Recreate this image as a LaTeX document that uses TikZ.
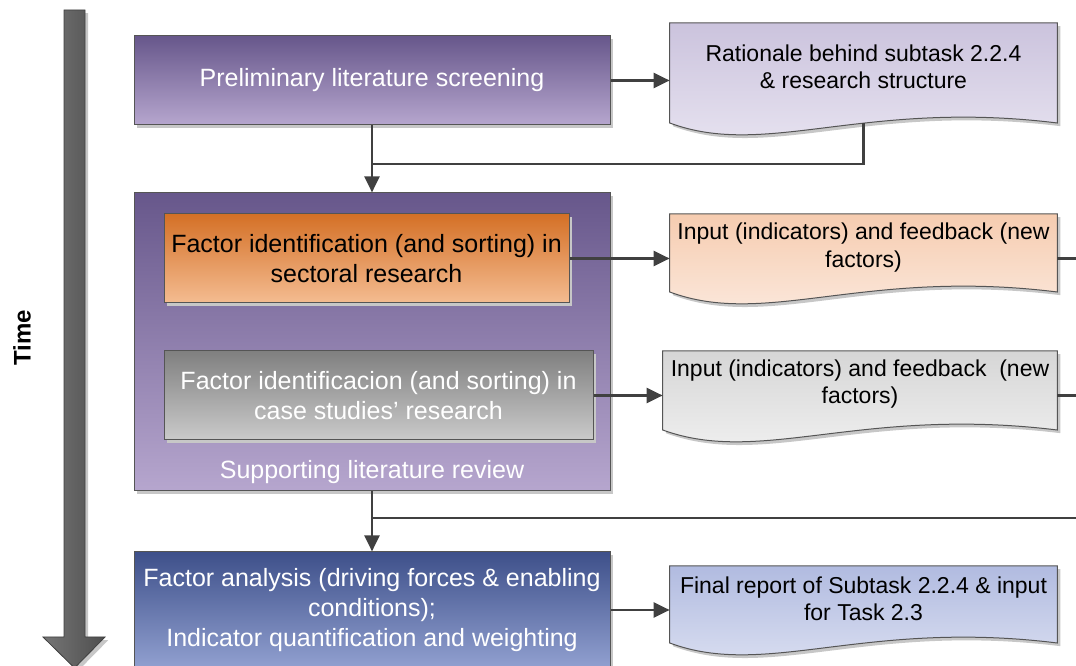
\documentclass[tikz,border=0pt]{standalone}
\usepackage{fontspec}
\setmainfont{Liberation Sans}
\usetikzlibrary{arrows.meta,calc,shadows}
\pgfdeclarelayer{background}
\pgfsetlayers{background,main}

\definecolor{edge}{RGB}{85,85,85}
\definecolor{connc}{RGB}{64,64,64}
\definecolor{purpT}{RGB}{103,87,139}
\definecolor{purpB}{RGB}{182,166,206}
\definecolor{orT}{RGB}{212,112,38}
\definecolor{orB}{RGB}{244,188,145}
\definecolor{grT}{RGB}{128,128,128}
\definecolor{grB}{RGB}{202,202,202}
\definecolor{blT}{RGB}{62,80,138}
\definecolor{blB}{RGB}{145,160,208}
\definecolor{d1T}{RGB}{203,195,221}
\definecolor{d1B}{RGB}{234,230,242}
\definecolor{d2T}{RGB}{246,204,176}
\definecolor{d2B}{RGB}{252,236,226}
\definecolor{d3T}{RGB}{214,214,214}
\definecolor{d3B}{RGB}{243,243,243}
\definecolor{d4T}{RGB}{177,187,224}
\definecolor{d4B}{RGB}{223,227,243}
\definecolor{timeL}{RGB}{118,118,118}
\definecolor{timeR}{RGB}{78,78,78}

\tikzset{
  x=0.75pt, y=-0.75pt,
  softshadow/.style={drop shadow={shadow xshift=2.4pt, shadow yshift=-2.4pt, fill=black!22, opacity=1}},
  flowbox/.style={draw=edge, line width=0.75pt, rectangle, align=center, inner sep=0pt, softshadow},
  boxfont/.style={font=\fontsize{18.75}{22.5}\selectfont},
  docfont/.style={font=\fontsize{17.25}{20.5}\selectfont, align=center, inner sep=0pt},
  docshape/.style={draw=edge, line width=0.75pt, softshadow},
  conn/.style={draw=connc, line width=2.2pt},
  arrowline/.style={conn, -{Triangle[length=12pt,width=11pt]}},
}

% document symbol with a wavy lower edge, drawn behind its text node
\newcommand\docoutline[5]{%
  \begin{pgfonlayer}{background}
    \path[docshape, top color=#4, bottom color=#5]
      ($(#1.west)+(0,-#2)$) -- ($(#1.east)+(0,-#2)$) -- ($(#1.east)+(0,#3)$)
      .. controls ($(#1.west)!0.5!(#1.east)+(0,#3-24)$) and ($(#1.west)!0.25!(#1.east)+(0,#3+36)$)
      .. ($(#1.west)+(0,#3)$) -- cycle;
  \end{pgfonlayer}}

\begin{document}
\begin{tikzpicture}
\useasboundingbox (0,0) rectangle (1076,666);
\clip (0,0) rectangle (1076,666);

% time axis
\path[draw=black!75, line width=0.6pt, left color=timeL, right color=timeR, softshadow]
  (64,10) -- (85,10) -- (85,637) -- (105,637) -- (74.5,668) -- (43,637) -- (64,637) -- cycle;
\node[font=\bfseries\fontsize{18}{20}\selectfont, rotate=90] (time) at (22,338) {Time};

% process boxes
\node[flowbox, boxfont, text=white, top color=purpT, bottom color=purpB,
      minimum width=357pt, minimum height=66.75pt] (pls) at (372,80.5)
  {Preliminary literature screening};
\node[flowbox, top color=purpT, bottom color=purpB,
      minimum width=357pt, minimum height=223.5pt] (slr) at (372,342) {};
\node[boxfont, text=white] (slrlabel) at (372,472) {Supporting literature review};
\node[flowbox, boxfont, top color=orT, bottom color=orB,
      minimum width=303.75pt, minimum height=66.75pt] (sec) at (366.5,258.5)
  {Factor identification (and sorting) in\\sectoral research};
\node[flowbox, boxfont, text=white, top color=grT, bottom color=grB,
      minimum width=321.75pt, minimum height=66.75pt] (cs) at (378.5,395.5)
  {Factor identificacion (and sorting) in\\case studies’ research};
\node[flowbox, boxfont, text=white, top color=blT, bottom color=blB,
      minimum width=357pt, minimum height=87pt] (fa) at (372,610)
  {Factor analysis (driving forces \& enabling\\conditions);\\Indicator quantification and weighting};

% documents
\node[docfont, minimum width=290.25pt] (rat) at (863.5,66.5)
  {Rationale behind subtask 2.2.4\\\& research structure};
\docoutline{rat}{43.5}{56.5}{d1T}{d1B}
\node[docfont, minimum width=290.25pt] (inp1) at (863.5,247.5)
  {Input (indicators) and feedback (new\\factors)};
\docoutline{inp1}{33.5}{44.5}{d2T}{d2B}
\node[docfont, minimum width=295.5pt] (inp2) at (860,384)
  {Input (indicators) and feedback\ \ (new\\factors)};
\docoutline{inp2}{33}{46}{d3T}{d3B}
\node[docfont, minimum width=290.25pt] (fin) at (863.5,599)
  {Final report of Subtask 2.2.4 \& input\\for Task 2.3};
\docoutline{fin}{33}{44}{d4T}{d4B}

% connectors
\coordinate (ratfoot) at ($(rat.center)+(0,56.5)$);
\coordinate (join1) at (372,164);
\coordinate (bus) at (1095,518);

\draw[arrowline] (pls.east) -- (pls.east -| rat.west);
\draw[arrowline] (pls.south) -- (slr.north);
\draw[conn] (ratfoot) |- (join1);
\draw[arrowline] (sec.east) -- (sec.east -| inp1.west);
\draw[arrowline] (cs.east) -- (cs.east -| inp2.west);
\draw[conn] (sec.east -| inp1.east) -| (bus);
\draw[conn] (cs.east -| inp2.east) -- (cs.east -| bus);
\draw[conn] (bus) -- (slr.south |- bus);
\draw[arrowline] (slr.south) -- (fa.north);
\draw[arrowline] (fa.east) -- (fa.east -| fin.west);
\end{tikzpicture}
\end{document}
